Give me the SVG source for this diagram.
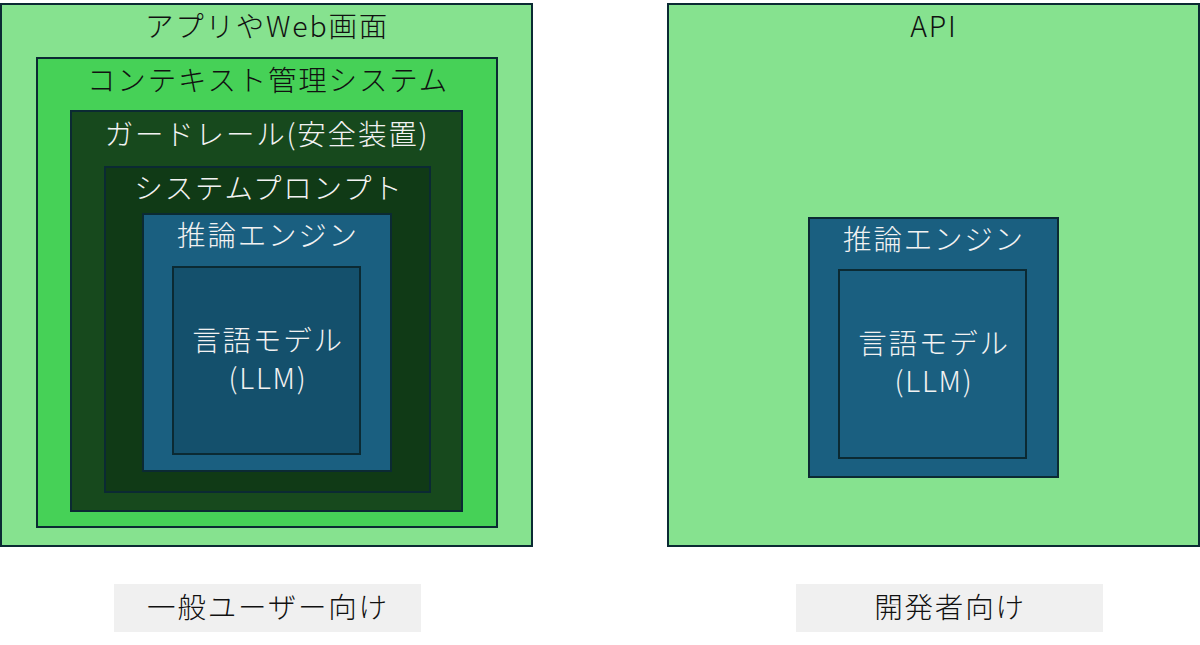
<svg xmlns="http://www.w3.org/2000/svg" width="1200" height="645" viewBox="0 0 1200 645">
<style>
.b{stroke:#0b2a33;stroke-width:2}
.t{font-family:"Noto Sans CJK JP","Noto Sans",sans-serif;font-size:28.5px;text-anchor:middle;font-weight:300;letter-spacing:1.8px}
.d{fill:#111}
.w{fill:#f2f2f2}
</style>
<rect width="1200" height="645" fill="#fff"/>
<g id="app">
<rect class="b" x="1" y="4" width="531" height="542" fill="#86e28f"/>
<text class="t d" x="267" y="37">アプリやWeb画面</text>
</g>
<g id="context">
<rect class="b" x="37" y="58" width="460" height="469" fill="#46d157"/>
<text class="t d" x="268" y="91">コンテキスト管理システム</text>
</g>
<g id="guardrail">
<rect class="b" x="71" y="111" width="391" height="400" fill="#17491d"/>
<text class="t w" x="267" y="145">ガードレール(安全装置)</text>
</g>
<g id="sysprompt">
<rect class="b" x="105" y="167" width="325" height="325" fill="#103a16"/>
<text class="t w" x="269" y="199">システムプロンプト</text>
</g>
<g id="engine1">
<rect class="b" x="143" y="214" width="248" height="257" fill="#1a5f80"/>
<text class="t w" x="268" y="246">推論エンジン</text>
</g>
<g id="llm1">
<rect class="b" x="173" y="267" width="187" height="187" fill="#14506c"/>
<text class="t w" x="268" y="351">言語モデル</text>
<text class="t w" x="268" y="389">(LLM)</text>
</g>
<g id="api">
<rect class="b" x="668" y="4" width="531" height="542" fill="#86e28f"/>
<text class="t d" x="934" y="37">API</text>
</g>
<g id="engine2">
<rect class="b" x="809" y="218" width="249" height="259" fill="#1a5f80"/>
<text class="t w" x="934" y="250">推論エンジン</text>
</g>
<g id="llm2">
<rect class="b" x="839" y="270" width="187" height="188" fill="#1a5f80"/>
<text class="t w" x="934" y="354">言語モデル</text>
<text class="t w" x="934" y="392">(LLM)</text>
</g>
<g id="label1">
<rect x="114" y="584" width="307" height="48" fill="#f0f0f0"/>
<text class="t d" x="268" y="618">一般ユーザー向け</text>
</g>
<g id="label2">
<rect x="796" y="584" width="307" height="48" fill="#f0f0f0"/>
<text class="t d" x="950" y="618">開発者向け</text>
</g>
<g id="connectors"></g>
</svg>
